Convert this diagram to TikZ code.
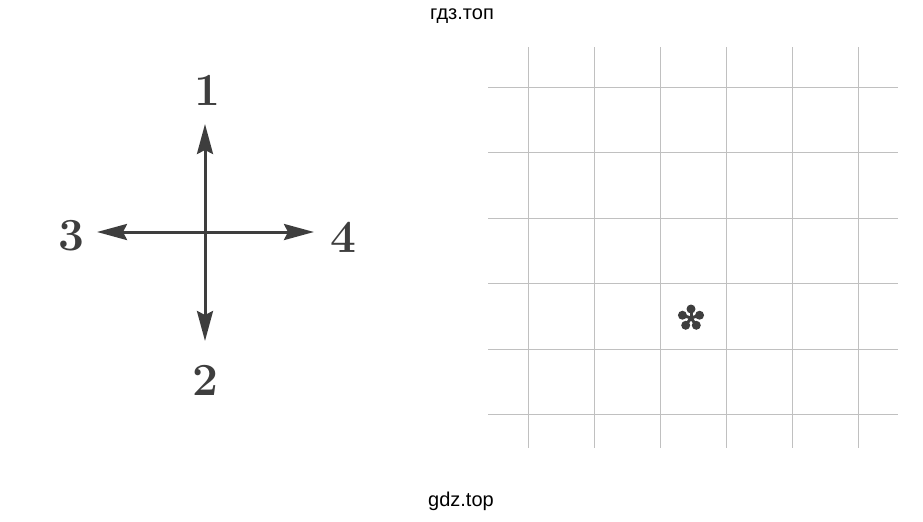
\documentclass[tikz,border=0pt]{standalone}
\usepackage{fontspec}
\newfontfamily\sitefont{Liberation Sans}
\usepackage{xcolor}
\usepackage{tikz}
\usetikzlibrary{arrows.meta,positioning}

\definecolor{ink}{RGB}{62,62,62}
\definecolor{gridgray}{RGB}{192,192,192}

\begin{document}
\begin{tikzpicture}[x=0.5pt,y=-0.5pt,
    dirarrow/.style={-{Stealth[length=15pt,width=8pt,inset=2pt]},line width=1.5pt,draw=ink},
    digit/.style={font=\fontsize{23}{23}\selectfont\bfseries,text=ink,inner sep=0pt},
    site/.style={font=\sitefont\fontsize{10}{12}\selectfont,text=black,inner sep=0pt},
    gridline/.style={draw=gridgray,line width=0.5pt}]
    \useasboundingbox (0,0) rectangle (923,521);

    % Site names
    \node[site] (sitetop) at (462,16) {гдз.топ};
    \node[site] (sitebottom) at (461,501) {gdz.top};

    % Direction cross
    \coordinate (o) at (205,232);
    \coordinate (up) at (205,124);
    \coordinate (down) at (205,341);
    \coordinate (left) at (97,232);
    \coordinate (right) at (314,232);
    \draw[dirarrow] (o) -- (up);
    \draw[dirarrow] (o) -- (down);
    \draw[dirarrow] (o) -- (left);
    \draw[dirarrow] (o) -- (right);

    % Labels
    \node[digit] (d1) at (207,90) {1};
    \node[digit] (d2) at (205,380) {2};
    \node[digit] (d3) at (71,236) {3};
    \node[digit] (d4) at (343,237) {4};

    % Grid
    \foreach \gx in {528,594,660,726,792,858}
        \draw[gridline] (\gx,47) -- (\gx,448);
    \foreach \gy in {87,152,218,283,349,414}
        \draw[gridline] (488,\gy) -- (898,\gy);

    % Asterisk
    \coordinate (star) at (691,318);
    \foreach \a in {270,342,54,126,198} {
        \draw[ink,line width=1.5pt] (star) -- ++(\a:9);
        \fill[ink] (star) ++(\a:9) circle (4.5);
    }
\end{tikzpicture}
\end{document}
